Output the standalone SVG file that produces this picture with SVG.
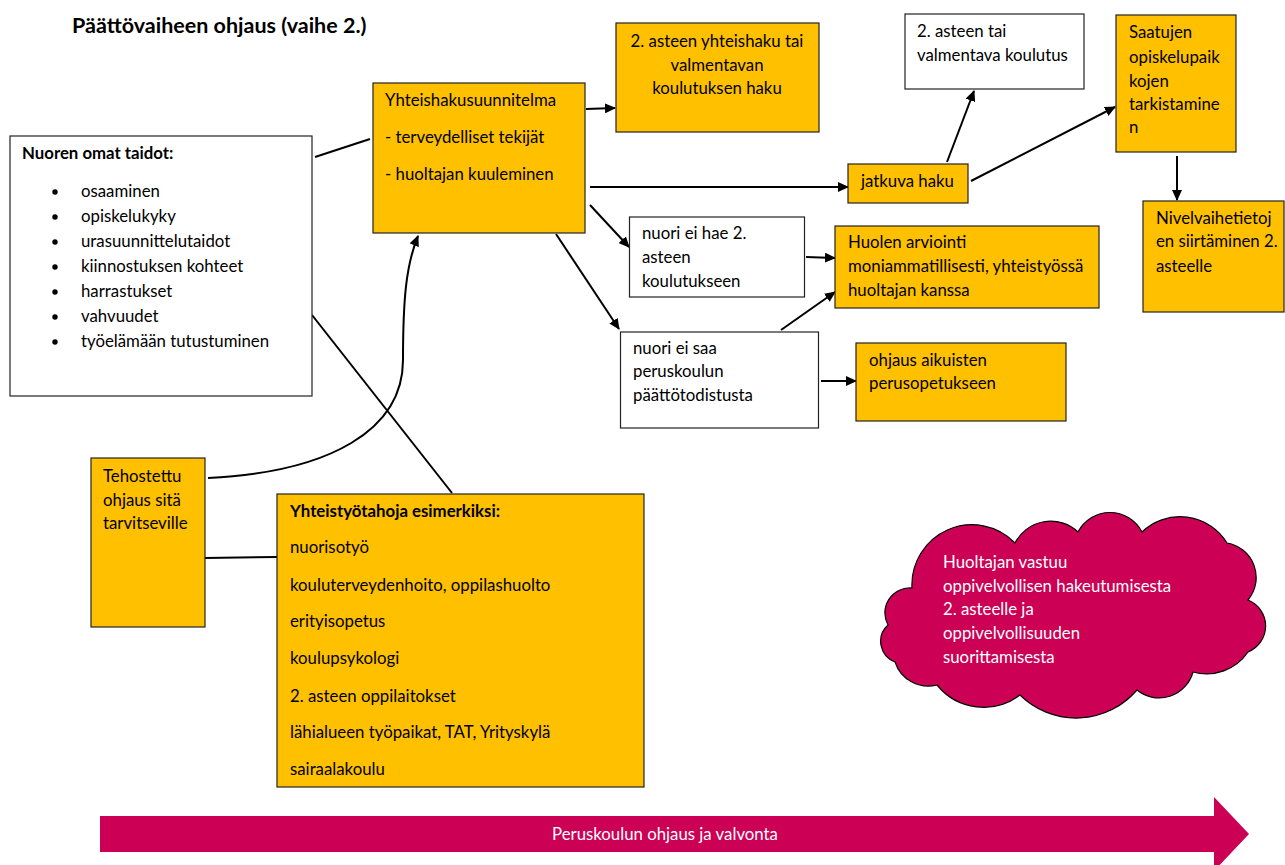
<svg xmlns="http://www.w3.org/2000/svg" width="1285" height="865" viewBox="0 0 1285 865">
<style>
text{font-family:Lato,"Carlito","Liberation Sans",sans-serif;font-size:16.8px;fill:#000}
.b{font-weight:bold}
.w{fill:#fff}
.y{fill:#FFC000;stroke:#222;stroke-width:1.2}
.wb{fill:#fff;stroke:#222;stroke-width:1.2}
.c{fill:none;stroke:#000;stroke-width:2}
.ca{fill:none;stroke:#000;stroke-width:2;marker-end:url(#ah)}
.t{font-size:21.5px;font-weight:bold}
</style>
<defs>
<marker id="ah" markerUnits="userSpaceOnUse" markerWidth="12" markerHeight="10" refX="10" refY="5" orient="auto">
<path d="M0,0 L11,5 L0,10 Z" fill="#000"/>
</marker>
</defs>
<rect width="1285" height="865" fill="#fff"/>
<text class="t" x="72" y="33">Päättövaiheen ohjaus (vaihe 2.)</text>

<g id="connectors">
<line class="c" x1="315" y1="157" x2="370" y2="139"/>
<path class="ca" d="M208,478 C330,472 403,430 403,360 C403,300 406,265 418,236"/>
<line class="c" x1="312" y1="315" x2="452" y2="493"/>
<line class="c" x1="205" y1="558" x2="277" y2="557"/>
<line class="ca" x1="586" y1="109" x2="615" y2="108"/>
<line class="ca" x1="590" y1="187" x2="848" y2="187"/>
<line class="ca" x1="947" y1="162" x2="974" y2="91"/>
<line class="ca" x1="971" y1="181" x2="1115" y2="107"/>
<line class="ca" x1="1177" y1="156" x2="1177" y2="200"/>
<line class="ca" x1="590" y1="205" x2="629" y2="247"/>
<line class="ca" x1="556" y1="234" x2="619" y2="329"/>
<line class="ca" x1="806" y1="257" x2="835" y2="258"/>
<line class="ca" x1="781" y1="330" x2="835" y2="292"/>
<line class="ca" x1="821" y1="381" x2="856" y2="381"/>
</g>

<g id="nuoren">
<rect class="wb" x="10" y="136" width="302" height="260"/>
<text class="b" x="22" y="159">Nuoren omat taidot:</text>
<g fill="#000">
<circle cx="55" cy="192" r="2.7"/><circle cx="55" cy="217" r="2.7"/><circle cx="55" cy="242" r="2.7"/><circle cx="55" cy="267" r="2.7"/><circle cx="55" cy="292" r="2.7"/><circle cx="55" cy="317" r="2.7"/><circle cx="55" cy="342" r="2.7"/>
</g>
<text x="81" y="197">osaaminen</text>
<text x="81" y="222">opiskelukyky</text>
<text x="81" y="247">urasuunnittelutaidot</text>
<text x="81" y="272">kiinnostuksen kohteet</text>
<text x="81" y="297">harrastukset</text>
<text x="81" y="322">vahvuudet</text>
<text x="81" y="347">työelämään tutustuminen</text>
</g>

<g id="yhteishakusuunnitelma">
<rect class="y" x="373" y="83" width="212" height="150"/>
<text x="385" y="106">Yhteishakusuunnitelma</text>
<text x="385" y="143">- terveydelliset tekijät</text>
<text x="385" y="180">- huoltajan kuuleminen</text>
</g>

<g id="yhteishaku">
<rect class="y" x="616" y="23" width="203" height="109"/>
<text x="717" y="47" text-anchor="middle">2. asteen yhteishaku tai</text>
<text x="717" y="71" text-anchor="middle">valmentavan</text>
<text x="717" y="94" text-anchor="middle">koulutuksen haku</text>
</g>

<g id="asteen-tai">
<rect class="wb" x="905" y="14" width="179" height="75"/>
<text x="917" y="37">2. asteen tai</text>
<text x="917" y="61">valmentava koulutus</text>
</g>

<g id="saatujen">
<rect class="y" x="1116" y="15" width="120" height="137"/>
<text x="1129" y="38">Saatujen</text>
<text x="1129" y="63">opiskelupaik</text>
<text x="1129" y="87">kojen</text>
<text x="1129" y="110">tarkistamine</text>
<text x="1129" y="133">n</text>
</g>

<g id="nivel">
<rect class="y" x="1143" y="201" width="141" height="111"/>
<text x="1156" y="224">Nivelvaihetietoj</text>
<text x="1156" y="247">en siirtäminen 2.</text>
<text x="1156" y="272">asteelle</text>
</g>

<g id="jatkuva">
<rect class="y" x="848" y="164" width="120" height="39"/>
<text x="861" y="187">jatkuva haku</text>
</g>

<g id="ei-hae">
<rect class="wb" x="629.500" y="217" width="175" height="80"/>
<text x="642" y="239">nuori ei hae 2.</text>
<text x="642" y="263">asteen</text>
<text x="642" y="287">koulutukseen</text>
</g>

<g id="huolen">
<rect class="y" x="835" y="226" width="264" height="82"/>
<text x="848" y="248">Huolen arviointi</text>
<text x="848" y="272">moniammatillisesti, yhteistyössä</text>
<text x="848" y="296">huoltajan kanssa</text>
</g>

<g id="ei-saa">
<rect class="wb" x="620.500" y="332" width="198" height="96"/>
<text x="633" y="354">nuori ei saa</text>
<text x="633" y="377">peruskoulun</text>
<text x="633" y="401">päättötodistusta</text>
</g>

<g id="ohjaus">
<rect class="y" x="856" y="343" width="210" height="78"/>
<text x="869" y="366">ohjaus aikuisten</text>
<text x="869" y="389">perusopetukseen</text>
</g>

<g id="tehostettu">
<rect class="y" x="91" y="458" width="114" height="169"/>
<text x="103" y="482">Tehostettu</text>
<text x="103" y="506">ohjaus sitä</text>
<text x="103" y="529">tarvitseville</text>
</g>

<g id="yhteistyotahoja">
<rect class="y" x="277" y="494" width="367" height="293"/>
<text class="b" x="290" y="517">Yhteistyötahoja esimerkiksi:</text>
<text x="290" y="553">nuorisotyö</text>
<text x="290" y="591">kouluterveydenhoito, oppilashuolto</text>
<text x="290" y="627">erityisopetus</text>
<text x="290" y="664">koulupsykologi</text>
<text x="290" y="702">2. asteen oppilaitokset</text>
<text x="290" y="738">lähialueen työpaikat, TAT, Yrityskylä</text>
<text x="290" y="775">sairaalakoulu</text>
</g>

<g id="cloud">
<path d="M912,588 A60,60 0 0 1 1015,543 A40,40 0 0 1 1078,532 A36,36 0 0 1 1142,532 A55,55 0 0 1 1227,543 A35,35 0 0 1 1248,600 A28,28 0 0 1 1248,652 A50,50 0 0 1 1193,672 A35,35 0 0 1 1137,690 A80,80 0 0 1 1020,695 A60,60 0 0 1 937,685 A35,35 0 0 1 895,662 A22,22 0 0 1 888,625 A25,25 0 0 1 912,588 Z" fill="#CC0055" stroke="#000" stroke-width="1.2"/>
<text class="w" x="943" y="568">Huoltajan vastuu</text>
<text class="w" x="943" y="592">oppivelvollisen hakeutumisesta</text>
<text class="w" x="943" y="615">2. asteelle ja</text>
<text class="w" x="943" y="639">oppivelvollisuuden</text>
<text class="w" x="943" y="663">suorittamisesta</text>
</g>

<g id="peruskoulu-arrow">
<path d="M100,816 L1214,816 L1214,797 L1249,834 L1214,871 L1214,852 L100,852 Z" fill="#CC0055"/>
<text class="w" x="665" y="840" text-anchor="middle">Peruskoulun ohjaus ja valvonta</text>
</g>
</svg>
